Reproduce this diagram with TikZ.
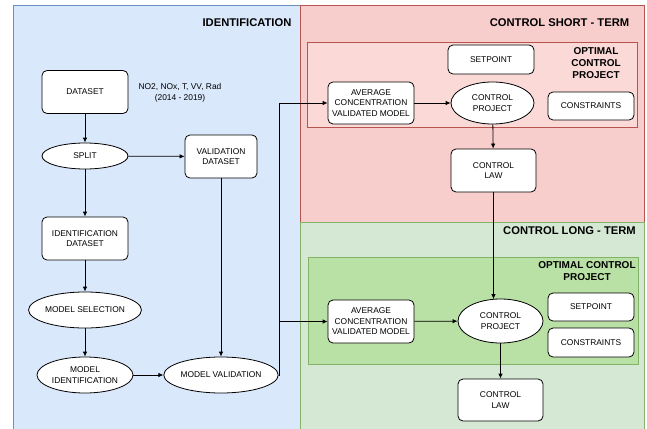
\documentclass[tikz,border=0pt]{standalone}
\usepackage{fontspec}
\setmainfont{Liberation Sans}
\usetikzlibrary{arrows.meta,shapes.geometric,calc}
\definecolor{bluefill}{HTML}{DAE8FC}
\definecolor{blueline}{HTML}{6C8EBF}
\definecolor{redfill}{HTML}{F8CECC}
\definecolor{redinner}{HTML}{FAD9D6}
\definecolor{redline}{HTML}{B85450}
\definecolor{greenfill}{HTML}{D5E8D4}
\definecolor{greeninner}{HTML}{B9E0A5}
\definecolor{greenline}{HTML}{82B366}
\tikzset{
  txt/.style={font=\fontsize{8.4}{10.5}\selectfont, align=center, text=black},
  rbox/.style={txt, draw=black, line width=0.8pt, fill=white, rounded corners=5pt, inner sep=0pt},
  ellbox/.style={txt, draw=black, line width=0.8pt, fill=white, ellipse, inner sep=0pt},
  title/.style={font=\fontsize{11.2}{13}\selectfont\bfseries, text=black},
  subtitle/.style={font=\fontsize{10}{12}\selectfont\bfseries, text=black, align=center},
  conn/.style={draw=black, line width=0.8pt, -{Latex[length=5pt,width=4.5pt]}},
}
\begin{document}
\begin{tikzpicture}[x=1pt,y=-1pt]
\useasboundingbox (0,0) rectangle (647,428);
\begin{scope}
\clip (0,0) rectangle (647,428);
% panels
\path[fill=bluefill, draw=blueline, line width=0.8pt] (13,5) rectangle (300,440);
\path[fill=redfill, draw=redline, line width=0.8pt] (300,5) rectangle (644,222);
\path[fill=greenfill, draw=greenline, line width=0.8pt] (300,222) rectangle (644,440);
\path[fill=redinner, draw=redline, line width=0.6pt] (307,42) rectangle (637,127);
\path[fill=greeninner, draw=greenline, line width=0.6pt] (308,257) rectangle (638,364);
\end{scope}
% titles
\node[title] (tid) at (247,23) {IDENTIFICATION};
\node[title] (tshort) at (559.5,23) {CONTROL SHORT - TERM};
\node[title] (tlong) at (569.5,231) {CONTROL LONG - TERM};
\node[subtitle] (ocps) at (596,63) {OPTIMAL\\CONTROL\\PROJECT};
\node[subtitle] (ocpl) at (587,271.5) {OPTIMAL CONTROL\\PROJECT};
% identification nodes
\node[rbox, minimum width=86pt, minimum height=43pt] (ds) at (85,92) {DATASET};
\node[txt] (dsnote) at (180,93) {NO2, NOx, T, VV, Rad\\(2014 - 2019)};
\node[ellbox, minimum width=86pt, minimum height=26pt] (split) at (85,156) {SPLIT};
\node[rbox, minimum width=72pt, minimum height=43pt] (val) at (221,156.5) {VALIDATION\\DATASET};
\node[rbox, minimum width=86pt, minimum height=43pt] (idds) at (85,238.5) {IDENTIFICATION\\DATASET};
\node[ellbox, minimum width=96pt, minimum height=36pt] (ms) at (85,310) {MODEL SELECTION};
\node[ellbox, minimum width=96pt, minimum height=36pt] (mi) at (85,375) {MODEL\\IDENTIFICATION};
\node[ellbox, minimum width=97pt, minimum height=36pt] (mv) at (221,375) {MODEL VALIDATION};
% short term nodes
\node[rbox, minimum width=86pt, minimum height=29pt] (sps) at (491,59.5) {SETPOINT};
\node[rbox, minimum width=86pt, minimum height=42pt] (avgs) at (371,103) {AVERAGE\\CONCENTRATION\\VALIDATED MODEL};
\node[ellbox, minimum width=83pt, minimum height=42pt] (cps) at (492.5,103) {CONTROL\\PROJECT};
\node[rbox, minimum width=86pt, minimum height=28pt] (cons) at (591,106) {CONSTRAINTS};
\node[rbox, minimum width=85pt, minimum height=43pt] (cls) at (493.5,170.5) {CONTROL\\LAW};
% long term nodes
\node[rbox, minimum width=86pt, minimum height=43pt] (avgl) at (371,321.5) {AVERAGE\\CONCENTRATION\\VALIDATED MODEL};
\node[ellbox, minimum width=85pt, minimum height=44pt] (cpl) at (500.5,321) {CONTROL\\PROJECT};
\node[rbox, minimum width=86pt, minimum height=28pt] (spl) at (591,307) {SETPOINT};
\node[rbox, minimum width=86pt, minimum height=29pt] (conl) at (591,342.5) {CONSTRAINTS};
\node[rbox, minimum width=85pt, minimum height=42pt] (cll) at (500.5,400) {CONTROL\\LAW};
% connectors
\coordinate (bus) at (279,375);
\draw[conn] (ds) -- (split);
\draw[conn] (split) -- (val);
\draw[conn] (split) -- (idds);
\draw[conn] (idds) -- (ms);
\draw[conn] (ms) -- (mi);
\draw[conn] (mi) -- (mv);
\draw[conn] (val) -- (mv);
\draw[conn] (mv.east) -- (bus) -- (bus |- avgs.west) -- (avgs.west);
\draw[conn] (bus) -- (bus |- avgl.west) -- (avgl.west);
\draw[conn] (avgs) -- (cps);
\draw[conn] (cps) -- (cls);
\draw[conn] (cls.south) -- ($(cls.south |- cpl.north)+(0,0.6)$);
\draw[conn] (avgl) -- (cpl);
\draw[conn] (cpl) -- (cll);
\end{tikzpicture}
\end{document}
